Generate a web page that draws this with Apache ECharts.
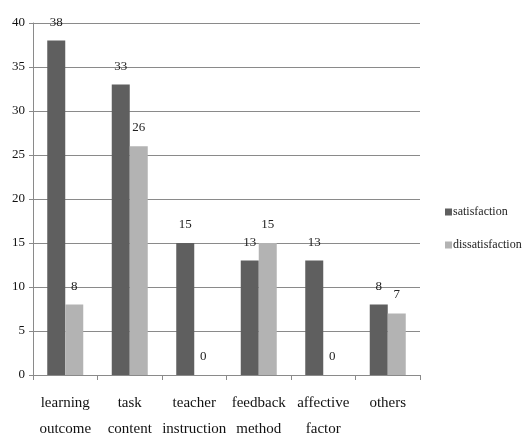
<!DOCTYPE html>
<html>
<head>
<meta charset="utf-8">
<script src="https://cdn.jsdelivr.net/npm/echarts@6/dist/echarts.min.js"></script>
<style>
  html, body { margin: 0; padding: 0; background: #fff; }
  #chart { width: 528px; height: 437px; }
</style>
</head>
<body>
<div id="chart"></div>
<script>
// Feedback categories and counts per response type
const categories = ['learning\noutcome', 'task\ncontent', 'teacher\ninstruction', 'feedback\nmethod', 'affective\nfactor', 'others'];
const satisfaction = [38, 33, 15, 13, 13, 8];
const dissatisfaction = [8, 26, 0, 15, 0, 7];
const yTicks = { min: 0, max: 40, interval: 5 };

const font = 'Liberation Serif, Times New Roman, serif';
const chart = echarts.init(document.getElementById('chart'));

const labelStyle = {
  show: true,
  position: 'top',
  distance: 12,
  color: '#222',
  fontFamily: font,
  fontSize: 13
};

chart.setOption({
  animation: false,
  textStyle: { fontFamily: font },
  grid: { left: 33, right: 108, top: 23, bottom: 62, containLabel: false, outerBoundsMode: 'none' },
  legend: {
    orient: 'vertical',
    left: 445,
    top: 206,
    padding: 0,
    itemWidth: 7,
    itemHeight: 7,
    itemGap: 21,
    icon: 'rect',
    textStyle: { fontFamily: font, fontSize: 12, color: '#222', padding: [0, 0, 0, -4] },
    data: ['satisfaction', 'dissatisfaction']
  },
  xAxis: {
    type: 'category',
    data: categories,
    axisLine: { lineStyle: { color: '#8a8a8a', width: 1 } },
    axisTick: { show: true, length: 5, alignWithLabel: false, lineStyle: { color: '#8a8a8a' } },
    axisLabel: { color: '#111', fontFamily: font, fontSize: 15, margin: 15, lineHeight: 26, interval: 0 }
  },
  yAxis: {
    type: 'value',
    min: yTicks.min,
    max: yTicks.max,
    interval: yTicks.interval,
    axisLine: { show: true, lineStyle: { color: '#8a8a8a', width: 1 } },
    axisTick: { show: true, length: 4, lineStyle: { color: '#8a8a8a' } },
    splitLine: { lineStyle: { color: '#8a8a8a', width: 1 } },
    axisLabel: { color: '#111', fontFamily: font, fontSize: 13, margin: 8 }
  },
  series: [
    {
      name: 'satisfaction',
      type: 'bar',
      data: satisfaction,
      barWidth: 18,
      barGap: '0%',
      itemStyle: { color: '#5f5f5f' },
      label: labelStyle
    },
    {
      name: 'dissatisfaction',
      type: 'bar',
      data: dissatisfaction,
      barWidth: 18,
      barGap: '0%',
      itemStyle: { color: '#b3b3b3' },
      label: labelStyle
    }
  ]
});
</script>
</body>
</html>
